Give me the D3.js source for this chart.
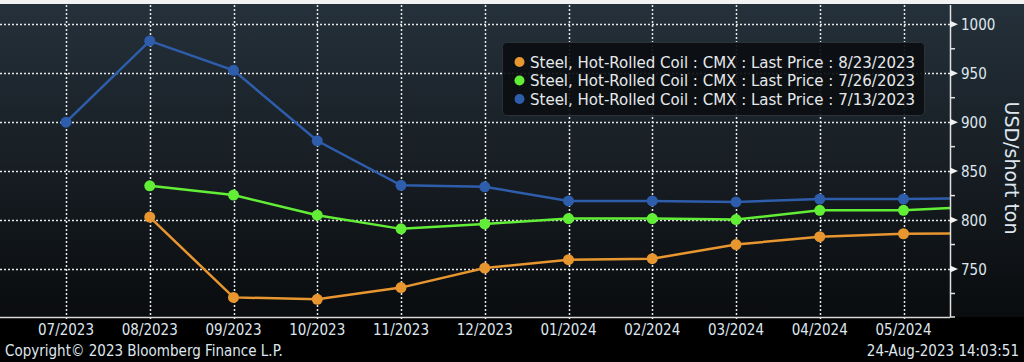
<!DOCTYPE html>
<html>
<head>
<meta charset="utf-8">
<script src="https://cdn.jsdelivr.net/npm/d3@7"></script>
<style>
  html, body { margin: 0; padding: 0; background: #fff; }
  svg { display: block; }
  text { font-family: "DejaVu Sans Condensed", "DejaVu Sans", sans-serif; }
</style>
</head>
<body>
<svg id="chart" width="1024" height="362"></svg>
<script>
// ---- data ----
const months = ["07/2023","08/2023","09/2023","10/2023","11/2023","12/2023","01/2024","02/2024","03/2024","04/2024","05/2024","06/2024"];
const tickLabels = ["07/2023","08/2023","09/2023","10/2023","11/2023","12/2023","01/2024","02/2024","03/2024","04/2024","05/2024"];
const seriesNames = [
  "Steel, Hot-Rolled Coil : CMX : Last Price : 8/23/2023",
  "Steel, Hot-Rolled Coil : CMX : Last Price : 7/26/2023",
  "Steel, Hot-Rolled Coil : CMX : Last Price : 7/13/2023"
];
const price0823 = [null, 803, 721, 719, 731, 751, 759.5, 760.5, 775, 783, 786, 786.5];
const price0726 = [null, 835, 825.5, 805, 791, 796, 801.5, 801.5, 800.5, 810, 810, 814];
const price0713 = [900, 983, 953, 881, 835.5, 834, 819.5, 819.5, 818.5, 821.5, 821.5, 822.5];
const yTicks = [750, 800, 850, 900, 950, 1000];
const yMinorTicks = [725, 775, 825, 875, 925, 975];
const colors = ["#e8962f", "#62ee36", "#2e5dac"];

// ---- layout ----
const W = 1024, H = 362;
const plotL = 0, plotR = 950, plotT = 5, plotB = 317;

const svg = d3.select("#chart");
const defs = svg.append("defs");
const grad = defs.append("linearGradient").attr("id", "bg").attr("x1", 0).attr("y1", 0).attr("x2", 0).attr("y2", 1);
grad.append("stop").attr("offset", "0%").attr("stop-color", "#25313b");
grad.append("stop").attr("offset", "100%").attr("stop-color", "#0a0c0e");
defs.append("clipPath").attr("id", "clip").append("rect")
  .attr("x", plotL).attr("y", plotT).attr("width", plotR - plotL).attr("height", plotB - plotT);

// background
svg.append("rect").attr("x", 0).attr("y", 0).attr("width", W).attr("height", H).attr("fill", "#000");
svg.append("rect").attr("x", 0).attr("y", 0).attr("width", W).attr("height", plotB).attr("fill", "url(#bg)");
svg.append("rect").attr("x", 0).attr("y", 0).attr("width", W).attr("height", 4).attr("fill", "#f2f2f2");

const x = d3.scaleLinear().domain([0, 10]).range([66, 903.5]);
const y = d3.scaleLinear().domain([750, 1000]).range([269, 24.3]);

// grid
const grid = svg.append("g").attr("clip-path", "url(#clip)");
grid.selectAll("line.h").data(yTicks).join("line")
  .attr("x1", plotL).attr("x2", plotR)
  .attr("y1", d => Math.round(y(d)) + 0.5).attr("y2", d => Math.round(y(d)) + 0.5)
  .attr("stroke", "#e8e8e8").attr("stroke-width", 1.5).attr("stroke-dasharray", "2,2");
svg.append("g").selectAll("line.v").data(tickLabels).join("line")
  .attr("x1", (d, i) => Math.round(x(i)) + 0.5).attr("x2", (d, i) => Math.round(x(i)) + 0.5)
  .attr("y1", plotT).attr("y2", plotB + 4)
  .attr("stroke", "#e8e8e8").attr("stroke-width", 1.5).attr("stroke-dasharray", "2,2");

// series
const series = [price0823, price0726, price0713];
const lineGen = d3.line().defined(d => d != null).x((d, i) => x(i)).y(d => y(d));
const sg = svg.append("g").attr("clip-path", "url(#clip)");
[2, 1, 0].forEach(k => {
  const vals = series[k];
  sg.append("path").datum(vals).attr("d", lineGen)
    .attr("fill", "none").attr("stroke", colors[k]).attr("stroke-width", 2.5);
  sg.selectAll(null).data(vals.map((v, i) => ({v, i})).filter(d => d.v != null)).join("circle")
    .attr("cx", d => x(d.i)).attr("cy", d => y(d.v)).attr("r", 5.5).attr("fill", colors[k]);
});

// x axis line
svg.append("line").attr("x1", 0).attr("x2", plotR).attr("y1", plotB + 0.5).attr("y2", plotB + 0.5)
  .attr("stroke", "#d8d8d8").attr("stroke-width", 1.5);
// x labels
svg.append("g").selectAll("text").data(tickLabels).join("text")
  .attr("x", (d, i) => x(i)).attr("y", 335)
  .attr("text-anchor", "middle").attr("fill", "#dfe6ee").attr("font-size", 15)
  .text(d => d);

// right axis
const ax = svg.append("g");
ax.append("line").attr("x1", plotR + 0.5).attr("x2", plotR + 0.5).attr("y1", plotT).attr("y2", plotB)
  .attr("stroke", "#e0e0e0").attr("stroke-width", 1.5);
ax.selectAll("path.maj").data(yTicks).join("path")
  .attr("d", d => { const yy = y(d); return `M${plotR},${yy - 3.5}L${plotR + 8},${yy}L${plotR},${yy + 3.5}Z`; })
  .attr("fill", "#f0f0f0");
ax.selectAll("line.min").data(yMinorTicks.concat([y.invert(plotB)])).join("line")
  .attr("x1", plotR).attr("x2", plotR + 5)
  .attr("y1", d => y(d)).attr("y2", d => y(d))
  .attr("stroke", "#e0e0e0").attr("stroke-width", 1.5);
ax.selectAll("text").data(yTicks).join("text")
  .attr("x", 961).attr("y", d => y(d) + 5.5)
  .attr("fill", "#dfe6ee").attr("font-size", 15)
  .text(d => d);
svg.append("text")
  .attr("transform", "translate(1005,168) rotate(90)")
  .attr("text-anchor", "middle").attr("fill", "#dfe6ee").attr("font-size", 19)
  .style("font-family", "'DejaVu Sans', sans-serif")
  .text("USD/short ton");

// legend
const lg = svg.append("g");
lg.append("rect").attr("x", 502.5).attr("y", 42.5).attr("width", 422).attr("height", 73).attr("rx", 4)
  .attr("fill", "#0b0e11").attr("fill-opacity", 0.92).attr("stroke", "#2c3238");
seriesNames.forEach((name, k) => {
  const cy = 62 + k * 18.5;
  lg.append("circle").attr("cx", 519.5).attr("cy", cy).attr("r", 5).attr("fill", colors[k]);
  lg.append("text").attr("x", 530).attr("y", cy + 5.5).attr("fill", "#e6e9ec").attr("font-size", 15)
    .style("font-family", "'DejaVu Sans', sans-serif")
    .text(name);
});

// footer
svg.append("text").attr("x", 5).attr("y", 356).attr("fill", "#dfe6ee").attr("font-size", 15)
  .text("Copyright\u00A9 2023 Bloomberg Finance L.P.");
svg.append("text").attr("x", 1019).attr("y", 356).attr("text-anchor", "end").attr("fill", "#dfe6ee").attr("font-size", 15)
  .text("24-Aug-2023 14:03:51");
</script>
</body>
</html>
